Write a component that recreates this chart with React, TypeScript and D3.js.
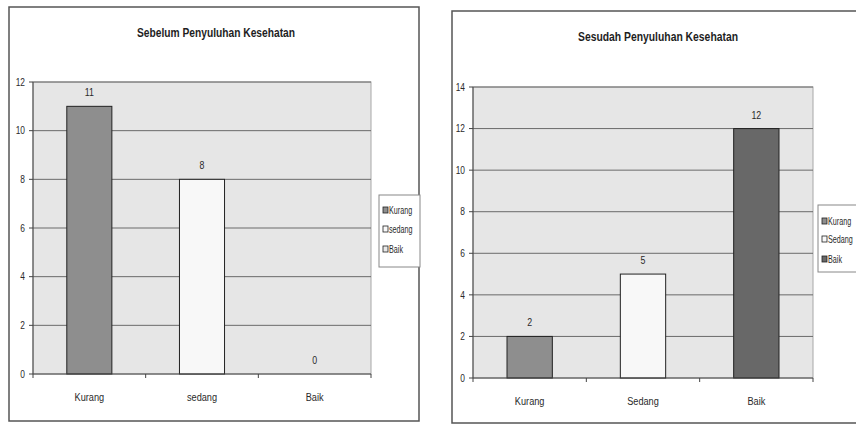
import React from "react";
import * as d3 from "d3";

// Before / after health-education knowledge levels
const beforeCategories = ["Kurang", "sedang", "Baik"];
const beforeValues = [11, 8, 0];
const beforeTicks = [0, 2, 4, 6, 8, 10, 12];

const afterCategories = ["Kurang", "Sedang", "Baik"];
const afterValues = [2, 5, 12];
const afterTicks = [0, 2, 4, 6, 8, 10, 12, 14];

const beforeTitle = "Sebelum Penyuluhan Kesehatan";
const afterTitle = "Sesudah Penyuluhan Kesehatan";

const FONT = "'Liberation Sans', Arial, sans-serif";

type NarrowProps = {
  x: number;
  y: number;
  size: number;
  anchor?: "start" | "middle" | "end";
  dy?: string;
  squeeze?: number;
  children: React.ReactNode;
};

// Condensed text: horizontally squeezed around its anchor point
function NarrowText({ x, y, size, anchor = "middle", dy, squeeze = 0.8, children }: NarrowProps) {
  return (
    <text
      transform={`translate(${x},${y}) scale(${squeeze},1)`}
      textAnchor={anchor}
      fontSize={size}
      dy={dy}
      fill="#2a2a2a"
    >
      {children}
    </text>
  );
}

type PanelProps = {
  title: string;
  categories: string[];
  values: number[];
  ticks: number[];
  fills: string[];
  legendFills: string[];
  frame: { x: number; y: number; w: number; h: number };
  plot: { left: number; right: number; top: number; bottom: number };
  titlePos: { x: number; y: number; width: number };
  legend: { x: number; y: number; w: number; h: number; rows: number[] };
};

function ChartPanel(p: PanelProps) {
  const yMax = p.ticks[p.ticks.length - 1];
  const y = d3.scaleLinear().domain([0, yMax]).range([p.plot.bottom, p.plot.top]);
  const x = d3
    .scaleBand<string>()
    .domain(p.categories)
    .range([p.plot.left, p.plot.right])
    .padding(0);
  const step = x.bandwidth();
  const barW = step / 2.5;
  const boundaries = d3.range(p.categories.length + 1).map((i) => p.plot.left + i * step);

  return (
    <g fontFamily={FONT}>
      <rect
        x={p.frame.x}
        y={p.frame.y}
        width={p.frame.w}
        height={p.frame.h}
        fill="#ffffff"
        stroke="#555"
        strokeWidth={1.5}
      />
      <text
        x={p.titlePos.x}
        y={p.titlePos.y}
        textAnchor="middle"
        fontSize={13.5}
        fontWeight="bold"
        fill="#1e1e1e"
        textLength={p.titlePos.width}
        lengthAdjust="spacingAndGlyphs"
      >
        {p.title}
      </text>

      {/* plot area */}
      <rect
        x={p.plot.left}
        y={p.plot.top}
        width={p.plot.right - p.plot.left}
        height={p.plot.bottom - p.plot.top}
        fill="#e6e6e6"
        stroke="#a8a8a8"
        strokeWidth={1}
      />
      {p.ticks.map((t) => (
        <g key={t}>
          {t > 0 && (
            <line
              x1={p.plot.left}
              x2={p.plot.right}
              y1={y(t)}
              y2={y(t)}
              stroke="#6a6a6a"
              strokeWidth={1}
            />
          )}
          <line x1={p.plot.left - 4} x2={p.plot.left} y1={y(t)} y2={y(t)} stroke="#444" />
          <NarrowText x={p.plot.left - 8} y={y(t)} dy="0.35em" anchor="end" size={10.5}>
            {t}
          </NarrowText>
        </g>
      ))}

      {/* bars */}
      {p.categories.map((c, i) => {
        const cx = (x(c) as number) + step / 2;
        const top = y(p.values[i]);
        return (
          <g key={c}>
            {p.values[i] > 0 && (
              <rect
                x={cx - barW / 2}
                y={top}
                width={barW}
                height={p.plot.bottom - top}
                fill={p.fills[i]}
                stroke="#222"
                strokeWidth={1}
              />
            )}
            <NarrowText x={cx} y={top - 10} size={11}>
              {p.values[i]}
            </NarrowText>
            <NarrowText x={cx} y={p.plot.bottom + 27} size={11.5}>
              {c}
            </NarrowText>
          </g>
        );
      })}

      {/* axes */}
      <line x1={p.plot.left} x2={p.plot.left} y1={p.plot.top} y2={p.plot.bottom} stroke="#444" />
      <line x1={p.plot.left} x2={p.plot.right} y1={p.plot.bottom} y2={p.plot.bottom} stroke="#444" />
      {boundaries.map((bx, i) => (
        <line key={i} x1={bx} x2={bx} y1={p.plot.bottom} y2={p.plot.bottom + 4} stroke="#444" />
      ))}

      {/* legend */}
      <rect
        x={p.legend.x}
        y={p.legend.y}
        width={p.legend.w}
        height={p.legend.h}
        fill="#fff"
        stroke="#888"
      />
      {p.categories.map((c, i) => (
        <g key={c}>
          <rect
            x={p.legend.x + 4}
            y={p.legend.rows[i] - 3}
            width={5}
            height={6}
            fill={p.legendFills[i]}
            stroke="#222"
            strokeWidth={0.8}
          />
          <NarrowText x={p.legend.x + 10} y={p.legend.rows[i]} dy="0.35em" anchor="start" size={10} squeeze={0.72}>
            {c}
          </NarrowText>
        </g>
      ))}
    </g>
  );
}

export default function App() {
  return (
    <svg
      width={856}
      height={424}
      style={{ position: "absolute", left: 0, top: 0, background: "#fff" }}
    >
      <ChartPanel
        title={beforeTitle}
        categories={beforeCategories}
        values={beforeValues}
        ticks={beforeTicks}
        fills={["#8e8e8e", "#f8f8f8", "#f0f0f0"]}
        legendFills={["#8e8e8e", "#f8f8f8", "#e8e8e8"]}
        frame={{ x: 9, y: 7, w: 410, h: 414 }}
        plot={{ left: 33, right: 371, top: 82, bottom: 374 }}
        titlePos={{ x: 216, y: 37, width: 158 }}
        legend={{ x: 379, y: 195, w: 41, h: 72, rows: [210, 229, 249] }}
      />
      <ChartPanel
        title={afterTitle}
        categories={afterCategories}
        values={afterValues}
        ticks={afterTicks}
        fills={["#8e8e8e", "#f8f8f8", "#686868"]}
        legendFills={["#8e8e8e", "#f8f8f8", "#686868"]}
        frame={{ x: 452, y: 11, w: 430, h: 412 }}
        plot={{ left: 473, right: 813, top: 87, bottom: 378 }}
        titlePos={{ x: 658, y: 41, width: 160 }}
        legend={{ x: 818, y: 205, w: 50, h: 67, rows: [221, 239, 259] }}
      />
    </svg>
  );
}
